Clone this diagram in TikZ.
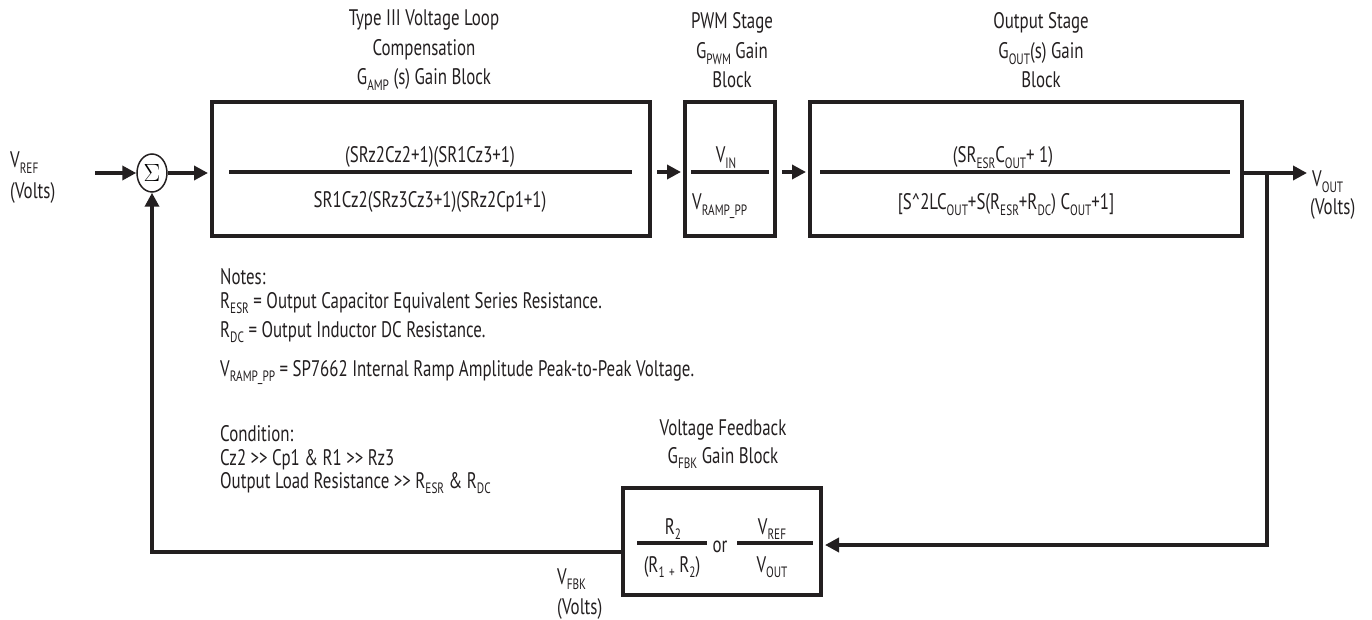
\documentclass[tikz,border=0pt]{standalone}
\usepackage{fontspec}
\setmainfont{PT Sans}[FakeStretch=0.75]
\usetikzlibrary{arrows.meta,shapes.geometric}
\definecolor{ink}{HTML}{231F20}
\newcommand\lo[1]{\raisebox{-0.25em}{\fontsize{15}{15}\selectfont #1}}
\begin{document}
\begin{tikzpicture}[x=1pt,y=-1pt,
  txt/.style={font=\fontsize{22.5}{26}\selectfont, text=ink, inner sep=0pt, anchor=base},
  ltxt/.style={txt, anchor=base west},
  blk/.style={draw=ink, line width=4pt, inner sep=0pt},
  conn/.style={draw=ink, line width=3.5pt, -{Triangle[length=14pt,width=14pt]}},
  frac/.style={draw=ink, line width=3.5pt}]
\useasboundingbox (0,0) rectangle (1372,620);

% blocks
\node[blk, minimum width=438pt, minimum height=134pt] (b1) at (431,169) {};
\node[blk, minimum width=90pt, minimum height=134pt] (b2) at (730,169) {};
\node[blk, minimum width=432pt, minimum height=134pt] (b3) at (1026,169) {};
\node[blk, minimum width=198pt, minimum height=107pt] (fb) at (722,541.5) {};
\node[ellipse, draw=ink, line width=1.5pt, minimum width=30pt, minimum height=38pt, inner sep=0pt] (sum) at (152,173) {\fontsize{24}{24}\selectfont$\Sigma$};

% titles
\node[txt] (t1a) at (424,26) {Type III Voltage Loop};
\node[txt] (t1b) at (424,56) {Compensation};
\node[txt] (t1c) at (424,85) {G\lo{AMP} (s) Gain Block};
\node[txt] (t2a) at (732,29) {PWM Stage};
\node[txt] (t2b) at (732,59) {G\lo{PWM} Gain};
\node[txt] (t2c) at (732,88) {Block};
\node[txt] (t3a) at (1041,29) {Output Stage};
\node[txt] (t3b) at (1041,59) {G\lo{OUT}(s) Gain};
\node[txt] (t3c) at (1041,88) {Block};
\node[txt] (t4a) at (723,435) {Voltage Feedback};
\node[txt] (t4b) at (723,463) {G\lo{FBK} Gain Block};

% block contents
\node[txt] (n1) at (430,163) {(SRz2Cz2+1)(SR1Cz3+1)};
\node[txt] (d1) at (430,208) {SR1Cz2(SRz3Cz3+1)(SRz2Cp1+1)};
\draw[frac] (229,172) -- (632,172);
\node[txt] (n2) at (726,163) {V\lo{IN}};
\node[ltxt] (d2) at (692,210) {V\lo{RAMP\_PP}};
\draw[frac] (691,172) -- (769,172);
\node[txt] (n3) at (1003,163) {(SR\lo{ESR}C\lo{OUT}+ 1)};
\node[txt] (d3) at (1006,210) {[S\textasciicircum 2LC\lo{OUT}+S(R\lo{ESR}+R\lo{DC}) C\lo{OUT}+1]};
\draw[frac] (820,172) -- (1230,172);
\node[txt] (n4) at (673,534) {R\lo{2}};
\node[txt] (d4) at (672,572) {(R\lo{1} \lo{+} R\lo{2})};
\draw[frac] (637,543) -- (707,543);
\node[txt] (or) at (720,552) {or};
\node[txt] (n5) at (772,534) {V\lo{REF}};
\node[txt] (d5) at (772,572) {V\lo{OUT}};
\draw[frac] (737,543) -- (813,543);

% notes
\node[ltxt] (m1) at (220,284) {Notes:};
\node[ltxt] (m2) at (220,308) {R\lo{ESR} = Output Capacitor Equivalent Series Resistance.};
\node[ltxt] (m3) at (220,337) {R\lo{DC} = Output Inductor DC Resistance.};
\node[ltxt] (m4) at (220,376) {V\lo{RAMP\_PP} = SP7662 Internal Ramp Amplitude Peak-to-Peak Voltage.};
\node[ltxt] (m5) at (220,441) {Condition:};
\node[ltxt] (m6) at (220,465) {Cz2 >{}> Cp1 \& R1 >{}> Rz3};
\node[ltxt] (m7) at (220,488) {Output Load Resistance >{}> R\lo{ESR} \& R\lo{DC}};

% signal labels
\node[ltxt] (vr) at (10,168) {V\lo{REF}};
\node[ltxt] (vr2) at (10,199) {(Volts)};
\node[ltxt] (vo1) at (1312,187) {V\lo{OUT}};
\node[ltxt] (vo2) at (1310,215) {(Volts)};
\node[ltxt] (vf1) at (557,584) {V\lo{FBK}};
\node[ltxt] (vf2) at (557,614) {(Volts)};

% connectors
\coordinate (in) at (95,173);
\coordinate (r) at (0,172);
\coordinate (vo) at (1307,173);
\coordinate (br) at (1267,173);
\coordinate (brd) at (1267,545);
\coordinate (lo) at (152,552);
\draw[conn] (in) -- (sum.west);
\draw[conn, shorten >=2pt] (sum.east) -- (sum.east -| b1.west);
\draw[conn, shorten <=5pt, shorten >=2pt] (b1.east |- r) -- (b2.west |- r);
\draw[conn, shorten <=5pt, shorten >=2pt] (b2.east |- r) -- (b3.west |- r);
\draw[conn] (b3.east |- vo) -- (vo);
\draw[conn, shorten >=2pt] (br) -- (brd) -- (fb.east |- brd);
\draw[conn] (fb.west |- lo) -- (lo) -- (sum.south);
\end{tikzpicture}
\end{document}
